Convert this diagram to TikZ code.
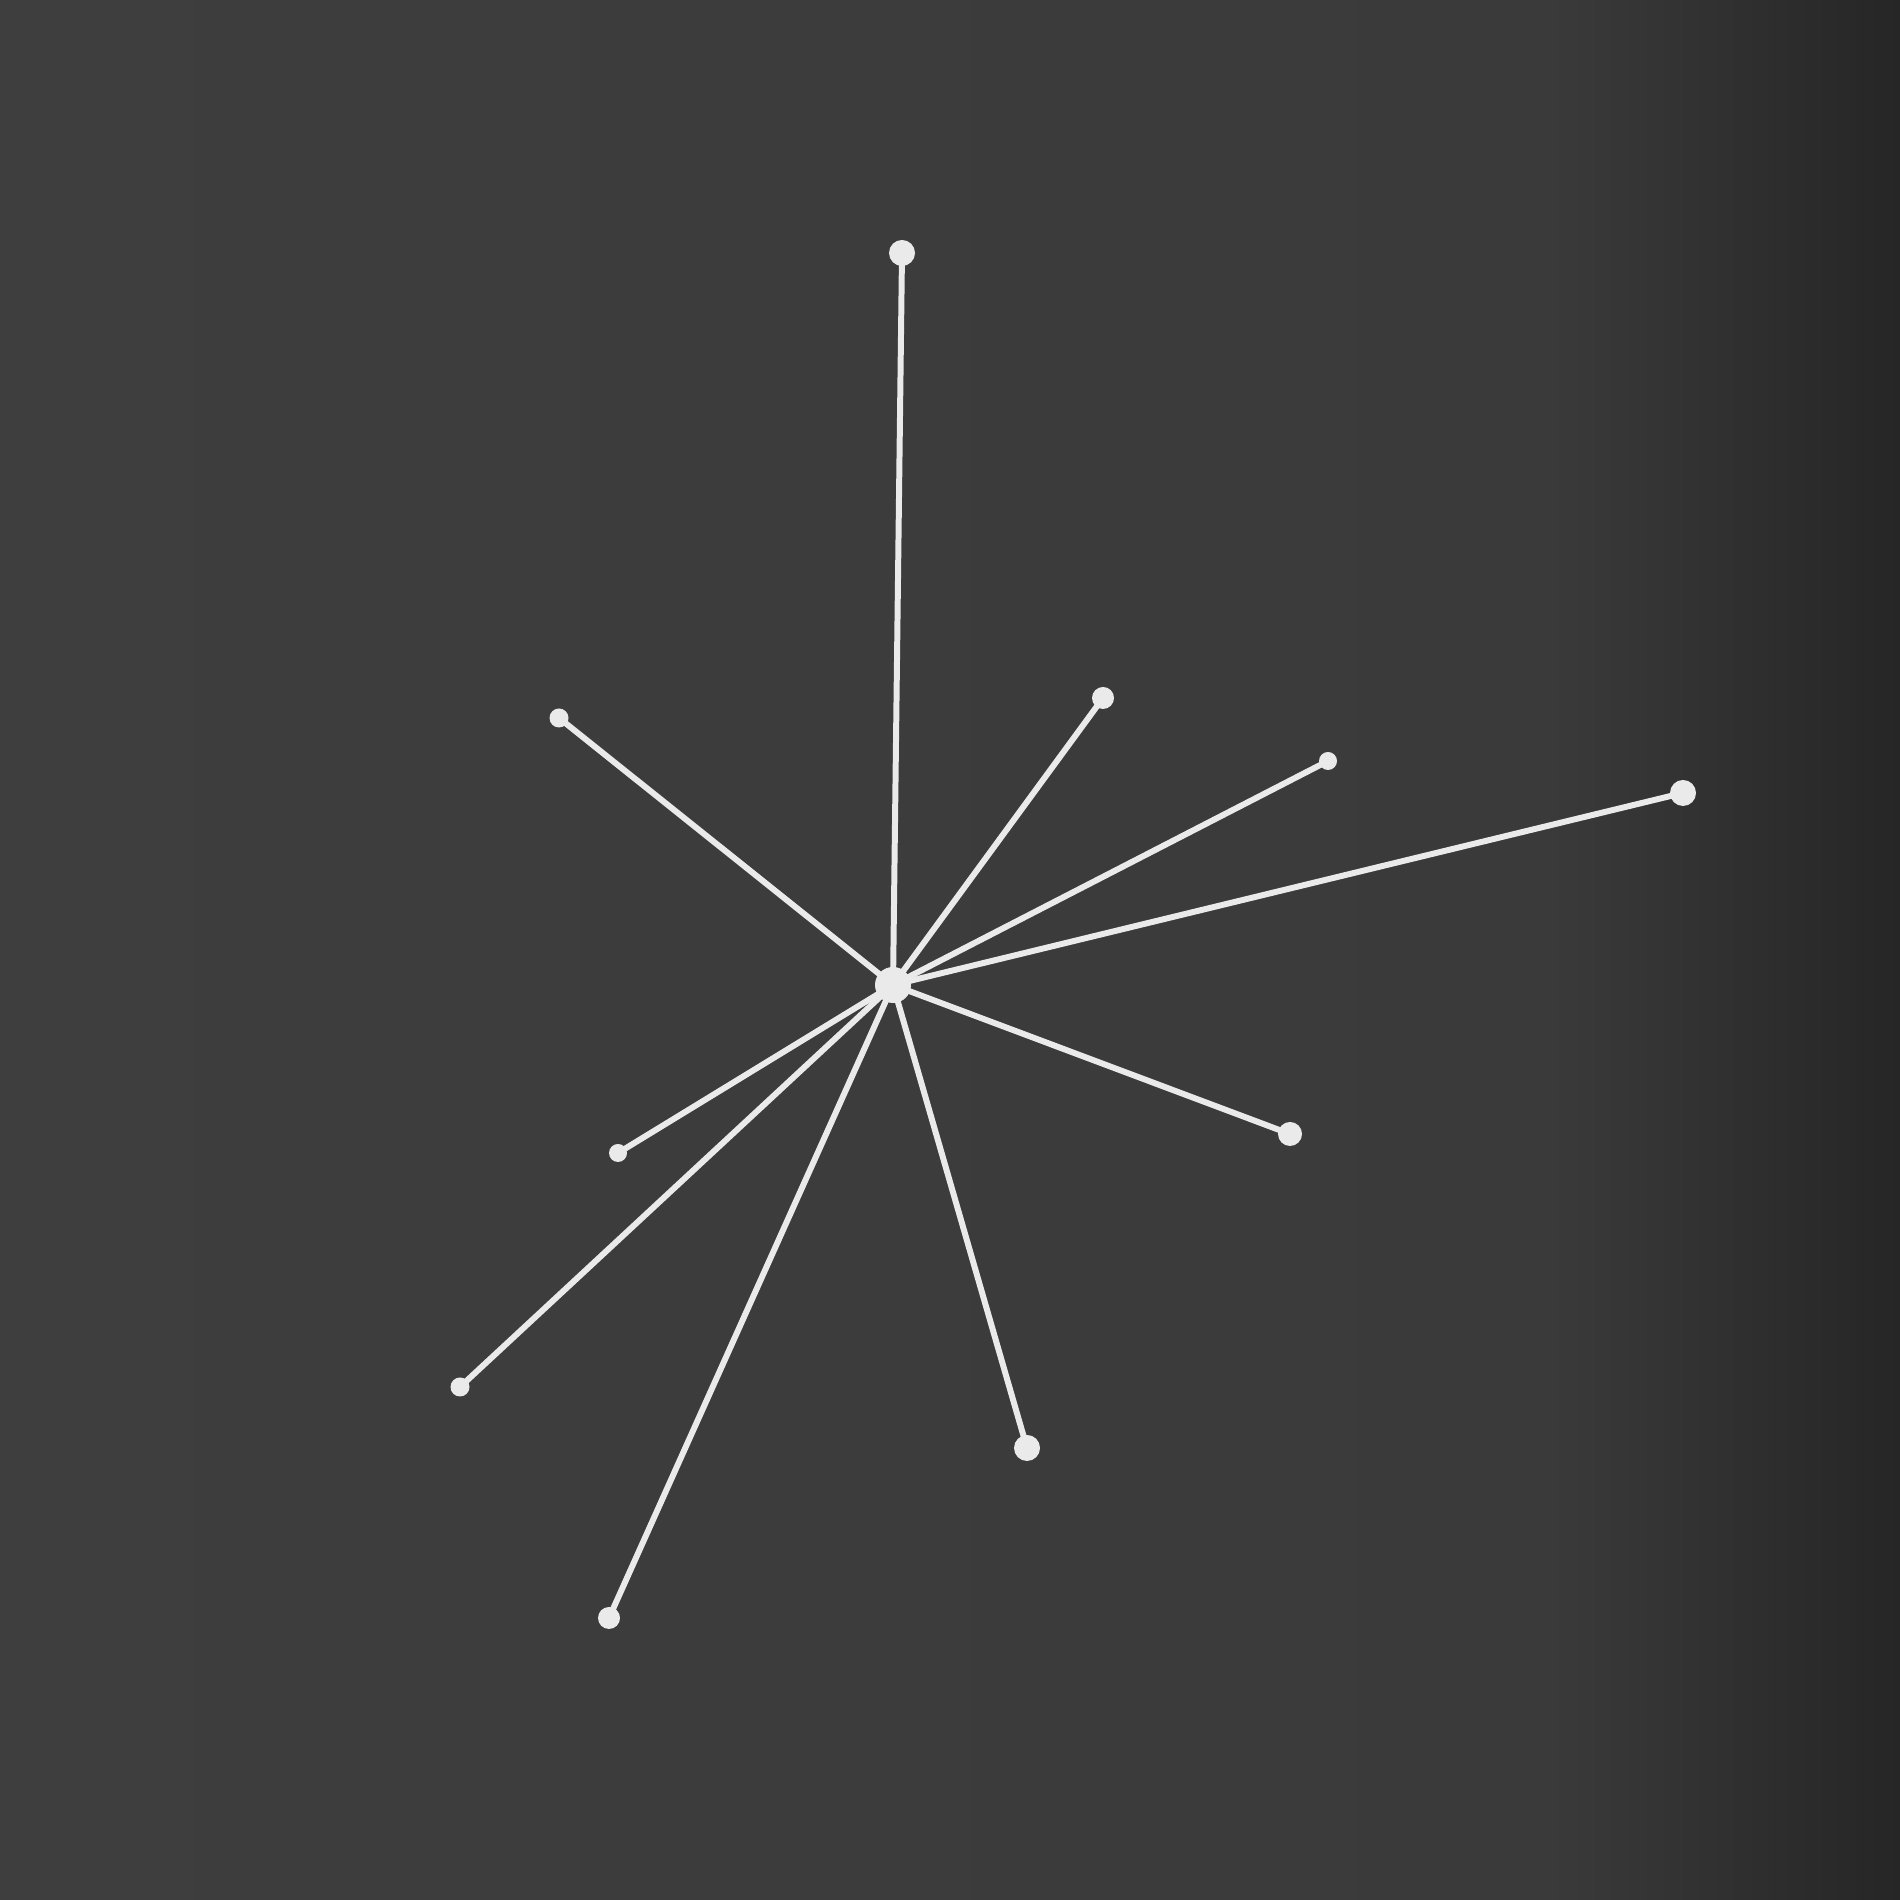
\documentclass[tikz,border=0pt]{standalone}
\usetikzlibrary{positioning,calc}

\definecolor{board}{RGB}{58,58,58}
\definecolor{boardlight}{RGB}{62,62,62}
\definecolor{boarddark}{RGB}{38,38,38}
\definecolor{chalk}{RGB}{234,234,234}

\begin{document}
\begin{tikzpicture}
  [
  line width=1.7pt, draw=chalk,
  hubnode/.style={circle, inner sep=0pt, outer sep=0pt, minimum size=0.36cm, fill=chalk, draw=none},
  leafnode/.style={circle, inner sep=0pt, outer sep=0pt, fill=chalk, draw=none},
  spoke/.style={draw=chalk, line width=1.7pt, shorten <=-2pt, shorten >=-2pt}
  ]

  \useasboundingbox (0,0) rectangle (19,19);
  \shade[left color=boardlight, right color=board] (0,0) rectangle (15.5,19);
  \shade[left color=board, right color=boarddark] (15.5,0) rectangle (19,19);

  \node[hubnode] (hub) at (8.93,9.15) {};

  % name/x/y/size
  \foreach \n/\x/\y/\s in {top/9.02/16.47/0.26, ul/5.59/11.82/0.19,
      ur/11.03/12.02/0.22, rr/13.28/11.39/0.18, far/16.83/11.07/0.26,
      rd/12.90/7.66/0.24, ll/6.18/7.47/0.18, lw/4.60/5.13/0.19,
      bd/10.27/4.52/0.26, bl/6.09/2.82/0.22} {
    \node[leafnode, minimum size=\s cm] (\n) at (\x,\y) {}
      edge[spoke] (hub);
  }
\end{tikzpicture}
\end{document}
